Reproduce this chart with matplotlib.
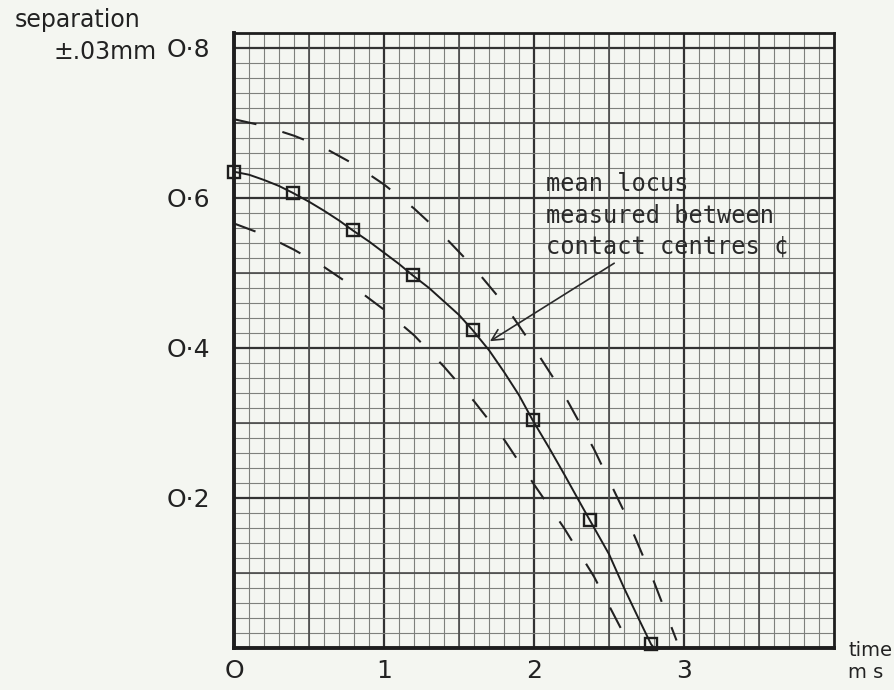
import numpy as np
import matplotlib.pyplot as plt

# measured points (time in ms, separation in mm)
point_t = [0.0, 0.39, 0.79, 1.19, 1.59, 1.99, 2.37, 2.78]
point_sep = [0.635, 0.607, 0.557, 0.497, 0.424, 0.304, 0.171, 0.005]

# mean locus
curve_t = [0.0, 0.1, 0.2, 0.3, 0.39, 0.5, 0.6, 0.7, 0.79, 0.9, 1.0, 1.1, 1.19, 1.3, 1.4, 1.5,
           1.59, 1.7, 1.8, 1.9, 1.99, 2.1, 2.2, 2.3, 2.37, 2.5, 2.6, 2.7, 2.78, 2.8]
curve_sep = [0.635, 0.631, 0.624, 0.616, 0.607, 0.595, 0.583, 0.570, 0.557, 0.542, 0.527, 0.512,
             0.497, 0.480, 0.462, 0.444, 0.424, 0.397, 0.368, 0.337, 0.304, 0.267, 0.232, 0.196,
             0.171, 0.125, 0.080, 0.038, 0.005, 0.0]

# dashed limits
upper_t = [0.0, 0.2, 0.4, 0.6, 0.8, 1.0, 1.2, 1.4, 1.6, 1.8, 2.0, 2.2, 2.4, 2.6, 2.8, 2.95]
upper_sep = [0.705, 0.696, 0.683, 0.667, 0.645, 0.618, 0.586, 0.549, 0.507, 0.459, 0.400, 0.338, 0.265, 0.182, 0.088, 0.01]
lower_t = [0.0, 0.2, 0.4, 0.6, 0.8, 1.0, 1.2, 1.4, 1.6, 1.8, 2.0, 2.2, 2.4, 2.6, 2.65]
lower_sep = [0.566, 0.551, 0.531, 0.508, 0.481, 0.451, 0.417, 0.375, 0.329, 0.278, 0.218, 0.160, 0.095, 0.018, 0.0]

x_ticks = [0, 1, 2, 3]
x_labels = ['O', '1', '2', '3']
y_ticks = [0.2, 0.4, 0.6, 0.8]
y_labels = ['O·2', 'O·4', 'O·6', 'O·8']

paper = '#f4f6f1'
fig = plt.figure(figsize=(8.95, 6.9), dpi=100, facecolor=paper)
ax = fig.add_axes([0.2615, 0.0609, 0.6704, 0.8913])
ax.set_facecolor(paper)
ax.set_xlim(0, 4)
ax.set_ylim(0, 0.82)

# graph paper
ax.set_xticks(x_ticks)
ax.set_xticklabels(x_labels)
ax.set_yticks(y_ticks)
ax.set_yticklabels(y_labels)
ax.set_xticks(np.arange(0, 4.01, 0.1), minor=True)
ax.set_yticks(np.arange(0, 0.821, 0.02), minor=True)
ax.grid(which='minor', color='#7e807c', lw=0.8)
ax.grid(which='major', color='#333333', lw=1.6)
for v in [0.5, 1.5, 2.5, 3.5]:
    ax.axvline(v, color='#4a4a4a', lw=1.2, zorder=0.6)
for v in [0.1, 0.3, 0.5, 0.7]:
    ax.axhline(v, color='#4a4a4a', lw=1.2, zorder=0.6)
ax.set_axisbelow(True)
ax.tick_params(which='both', length=0)
ax.tick_params(axis='y', pad=17, labelsize=18, colors='#222222')
ax.tick_params(axis='x', pad=8, labelsize=18, colors='#222222')
for s in ['left', 'bottom']:
    ax.spines[s].set_linewidth(2.8)
for s in ['top', 'right']:
    ax.spines[s].set_linewidth(2.0)
for s in ax.spines.values():
    s.set_color('#1e1e1e')

dash = (0, (11, 13))
ax.plot(upper_t, upper_sep, color='#222222', lw=1.5, linestyle=dash)
ax.plot(lower_t, lower_sep, color='#222222', lw=1.5, linestyle=dash)
ax.plot(curve_t, curve_sep, color='#1e1e1e', lw=1.4)
ax.plot(point_t, point_sep, 's', ms=9, mfc='none', mec='#1e1e1e', mew=1.7, clip_on=False)

ax.text(2.08, 0.634, 'mean locus\nmeasured between\ncontact centres ¢',
        fontsize=17, family='DejaVu Sans Mono', color='#2a2a2a',
        va='top', ha='left', linespacing=1.38)
ax.annotate('', xy=(1.69, 0.407), xytext=(2.55, 0.515),
            arrowprops=dict(arrowstyle='->', color='#2a2a2a', lw=1.2,
                            mutation_scale=20))

fig.text(78 / 895, 1 - 20 / 690, 'separation', fontsize=17, ha='center', va='center', color='#222222')
fig.text(105 / 895, 1 - 52 / 690, '±.03mm', fontsize=17, ha='center', va='center', color='#222222')
fig.text(893 / 895, 1 - 651 / 690, 'time', fontsize=14, ha='right', va='center', color='#222222')
fig.text(866 / 895, 1 - 673 / 690, 'm s', fontsize=14, ha='center', va='center', color='#222222')

fig.savefig('out.png', dpi=100, facecolor=paper)
